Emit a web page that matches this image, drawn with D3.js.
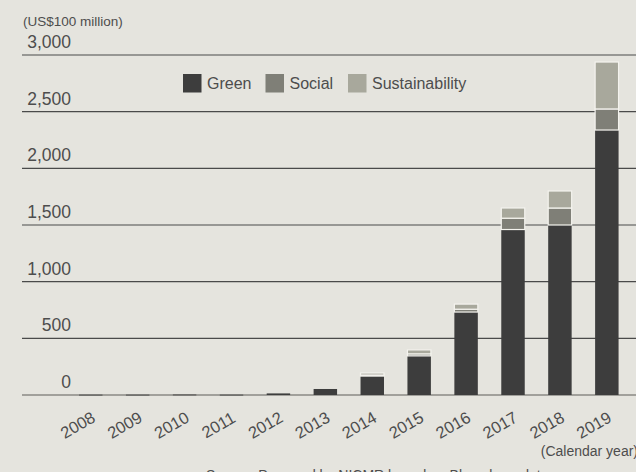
<!DOCTYPE html>
<html>
<head>
<meta charset="utf-8">
<script src="https://cdn.jsdelivr.net/npm/d3@7"></script>
<style>
  html, body { margin: 0; padding: 0; background: #e5e4de; overflow: hidden; }
  text { font-family: "Liberation Sans", Arial, sans-serif; fill: #4d4d4d; }
</style>
</head>
<body>
<div id="chart"></div>
<script>
const width = 636, height = 472;

// data (US$100 million)
const years = ["2008", "2009", "2010", "2011", "2012", "2013", "2014", "2015", "2016", "2017", "2018", "2019"];
const green = [3, 3, 4, 3, 14, 53, 167, 345, 732, 1460, 1500, 2338];
const social = [0, 0, 0, 0, 0, 0, 9, 18, 25, 100, 150, 186];
const sustainability = [0, 0, 0, 0, 0, 0, 18, 35, 45, 90, 150, 414];
const seriesNames = ["Green", "Social", "Sustainability"];
const yTicks = [0, 500, 1000, 1500, 2000, 2500, 3000];

const colors = { Green: "#3d3d3d", Social: "#7f7f77", Sustainability: "#a8a89c" };

const svg = d3.select("#chart")
    .append("svg")
    .attr("width", width)
    .attr("height", height);

const x = d3.scaleBand()
    .domain(years)
    .range([67.3, 630.3])
    .paddingInner(0.5)
    .paddingOuter(0.25);

const y = d3.scaleLinear()
    .domain([0, 3000])
    .range([395, 55]);

const table = years.map((yr, i) => ({
    year: yr,
    Green: green[i],
    Social: social[i],
    Sustainability: sustainability[i]
}));

const stacked = d3.stack().keys(seriesNames)(table);

// gridlines
svg.append("g")
    .selectAll("line")
    .data(yTicks)
    .join("line")
    .attr("x1", 22)
    .attr("x2", width)
    .attr("y1", d => y(d))
    .attr("y2", d => y(d))
    .attr("stroke", d => d === 0 ? "#8a8a84" : "#4a4a4a")
    .attr("stroke-width", d => d === 0 ? 1.6 : 1.1);

// y labels
svg.append("g")
    .selectAll("text")
    .data(yTicks)
    .join("text")
    .attr("x", 71)
    .attr("y", d => y(d) - 7)
    .attr("text-anchor", "end")
    .style("font-size", "17.5px")
    .text(d => d3.format(",")(d));

svg.append("text")
    .attr("x", 23)
    .attr("y", 26)
    .style("font-size", "13.5px")
    .text("(US$100 million)");

// bars
svg.append("g")
    .selectAll("g")
    .data(stacked)
    .join("g")
    .attr("fill", d => colors[d.key])
    .selectAll("rect")
    .data(d => d.filter(p => p[1] - p[0] > 0))
    .join("rect")
    .attr("x", d => x(d.data.year))
    .attr("width", x.bandwidth())
    .attr("y", d => y(d[1]))
    .attr("height", d => Math.max(0.8, y(d[0]) - y(d[1])))
    .attr("stroke", d => d[0] > 0 ? "#f4f3ee" : "none")
    .attr("stroke-width", 1.2);

// x labels
svg.append("g")
    .selectAll("text")
    .data(years)
    .join("text")
    .attr("transform", d => `translate(${x(d) + x.bandwidth() / 2 - 13},425) rotate(-30)`)
    .attr("text-anchor", "middle")
    .attr("dy", "0.35em")
    .style("font-size", "16.5px")
    .text(d => d);

svg.append("text")
    .attr("x", 638)
    .attr("y", 456)
    .attr("text-anchor", "end")
    .style("font-size", "14px")
    .text("(Calendar year)");

svg.append("text")
    .attr("x", 206)
    .attr("y", 480)
    .style("font-size", "14px")
    .text("Source: Prepared by NICMR based on Bloomberg data");

// legend
const legend = svg.append("g")
    .selectAll("g")
    .data([
        { name: "Green", x: 183 },
        { name: "Social", x: 265.5 },
        { name: "Sustainability", x: 348 }
    ])
    .join("g")
    .attr("transform", d => `translate(${d.x},74)`);

legend.append("rect")
    .attr("width", 18.5)
    .attr("height", 18.5)
    .attr("fill", d => colors[d.name]);

legend.append("text")
    .attr("x", 24)
    .attr("y", 15)
    .style("font-size", "16px")
    .text(d => d.name);
</script>
</body>
</html>
